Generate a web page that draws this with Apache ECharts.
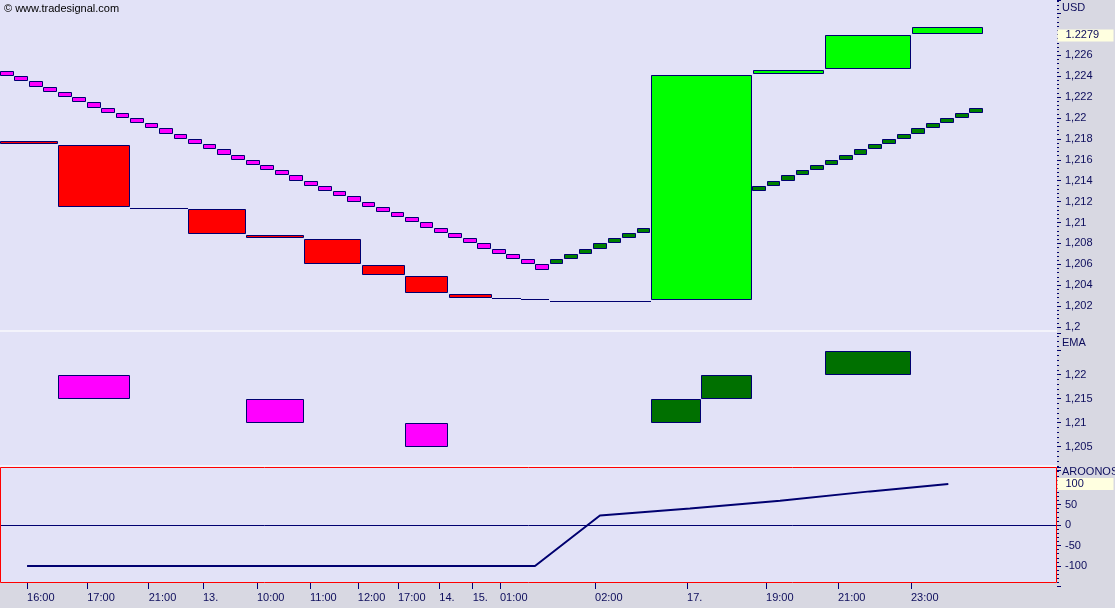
<!DOCTYPE html>
<html>
<head>
<meta charset="utf-8">
<title>Renko chart</title>
<script src="https://cdn.jsdelivr.net/npm/echarts@6.0.0/dist/echarts.min.js"></script>
<style>
html,body{margin:0;padding:0;background:#d8d8e2;overflow:hidden;}
#chart{width:1115px;height:608px;}
</style>
</head>
<body>
<div id="chart"></div>
<script>
// ---------------- data ----------------
// small renko bricks (one per column), low / high of each brick
const brickLow = [
  1.2240, 1.2235, 1.2230, 1.2225, 1.2220, 1.2215, 1.2210, 1.2205, 1.2200, 1.2195,
  1.2190, 1.2185, 1.2180, 1.2175, 1.2170, 1.2165, 1.2160, 1.2155, 1.2150, 1.2145,
  1.2140, 1.2135, 1.2130, 1.2125, 1.2120, 1.2115, 1.2110, 1.2105, 1.2100, 1.2095,
  1.2090, 1.2085, 1.2080, 1.2075, 1.2070, 1.2065, 1.2060, 1.2055,
  1.2060, 1.2065, 1.2070, 1.2075, 1.2080, 1.2085, 1.2090, 1.2095, 1.2100, 1.2105,
  1.2110, 1.2115, 1.2120, 1.2125, 1.2130, 1.2135, 1.2140, 1.2145, 1.2150, 1.2155,
  1.2160, 1.2165, 1.2170, 1.2175, 1.2180, 1.2185, 1.2190, 1.2195, 1.2200, 1.2205
];
const brickHigh = [
  1.2245, 1.2240, 1.2235, 1.2230, 1.2225, 1.2220, 1.2215, 1.2210, 1.2205, 1.2200,
  1.2195, 1.2190, 1.2185, 1.2180, 1.2175, 1.2170, 1.2165, 1.2160, 1.2155, 1.2150,
  1.2145, 1.2140, 1.2135, 1.2130, 1.2125, 1.2120, 1.2115, 1.2110, 1.2105, 1.2100,
  1.2095, 1.2090, 1.2085, 1.2080, 1.2075, 1.2070, 1.2065, 1.2060,
  1.2065, 1.2070, 1.2075, 1.2080, 1.2085, 1.2090, 1.2095, 1.2100, 1.2105, 1.2110,
  1.2115, 1.2120, 1.2125, 1.2130, 1.2135, 1.2140, 1.2145, 1.2150, 1.2155, 1.2160,
  1.2165, 1.2170, 1.2175, 1.2180, 1.2185, 1.2190, 1.2195, 1.2200, 1.2205, 1.2210
];
const brickDir = [
  -1,-1,-1,-1,-1,-1,-1,-1,-1,-1, -1,-1,-1,-1,-1,-1,-1,-1,-1,-1,
  -1,-1,-1,-1,-1,-1,-1,-1,-1,-1, -1,-1,-1,-1,-1,-1,-1,-1,
   1, 1, 1, 1, 1, 1, 1, 1, 1, 1,  1, 1, 1, 1, 1, 1, 1, 1, 1, 1,
   1, 1, 1, 1, 1, 1, 1, 1, 1, 1
];

// large price boxes (start column, end column, open, close)
const boxStart = [0, 4, 9, 13, 17, 21, 25, 28, 31, 34, 36, 38, 45, 52, 57, 63];
const boxEnd   = [4, 9, 13, 17, 21, 25, 28, 31, 34, 36, 38, 45, 52, 57, 63, 68];
const boxOpen  = [1.2178, 1.2174, 1.2114, 1.2113, 1.2088, 1.2084, 1.2059, 1.2049, 1.2032, 1.2028, 1.2027, 1.2025, 1.2026, 1.2242, 1.2247, 1.2280];
const boxClose = [1.2175, 1.2115, 1.2114, 1.2089, 1.2085, 1.2060, 1.2050, 1.2033, 1.2028, 1.2028, 1.2026, 1.2024, 1.2241, 1.2246, 1.2279, 1.2287];

// EMA panel boxes
const emaStart = [4, 17, 28, 45, 48.45, 57];
const emaEnd   = [9, 21, 31, 48.45, 52, 63];
const emaLow   = [1.215, 1.210, 1.205, 1.210, 1.215, 1.220];
const emaHigh  = [1.220, 1.215, 1.210, 1.215, 1.220, 1.225];
const emaDir   = [-1, -1, -1, 1, 1, 1];

// AROON oscillator line
const aroonX = [1.87, 36.98, 41.47, 47.69, 53.92, 60.14, 65.55];
const aroonY = [-100, -100, 23, 40, 59, 82, 100];

// time axis
const timeTickPos = [1.87, 6.03, 10.28, 14.03, 17.76, 21.43, 24.73, 27.51, 30.37, 32.67, 34.56, 41.13, 47.49, 52.95, 57.92, 62.97];
const timeTickLabels = ['16:00', '17:00', '21:00', '13.', '10:00', '11:00', '12:00', '17:00', '14.', '15.', '01:00', '02:00', '17.', '19:00', '21:00', '23:00'];

const lastPrice = 1.2279;
const lastAroon = 100;

// ---------------- styling / layout ----------------
const NAVY = '#000070';
const TXT = '#0c0c5c';
const FONT = 'Liberation Sans';
const PLOT_W = 1057;
const COL_PX = 14.467;
const X_MAX = PLOT_W / COL_PX;
const BRICK_FILL = 0.95;

function fmtPrice(v) { return String(+v.toFixed(4)).replace('.', ','); }

function pixRect(api, xa, xb, ya, yb) {
  const p0 = api.coord([xa, ya]);
  const p1 = api.coord([xb, yb]);
  return {
    L: Math.round(Math.min(p0[0], p1[0])),
    R: Math.round(Math.max(p0[0], p1[0])),
    T: Math.round(Math.min(p0[1], p1[1])),
    B: Math.round(Math.max(p0[1], p1[1]))
  };
}
function boxEl(r, fill) {
  if (!fill || r.B - r.T < 2) {
    return { type: 'rect', shape: { x: r.L, y: r.T, width: r.R - r.L, height: Math.max(r.B - r.T, 1) }, style: { fill: NAVY } };
  }
  return { type: 'rect', shape: { x: r.L + 0.5, y: r.T + 0.5, width: r.R - r.L - 1, height: r.B - r.T - 1 },
           style: { fill: fill, stroke: NAVY, lineWidth: 1 } };
}

const chart = echarts.init(document.getElementById('chart'), null, { renderer: 'canvas' });

const yTickCommon = {
  position: 'right',
  axisLine: { show: false, onZero: false },
  axisTick: { show: true, length: 4, lineStyle: { color: NAVY, width: 1 } },
  minorTick: { show: true, splitNumber: 5, length: 2, lineStyle: { color: NAVY, width: 1 } },
  splitLine: { show: false },
  minorSplitLine: { show: false }
};
const labelCommon = { color: TXT, fontSize: 11, fontFamily: FONT, margin: 8 };
function hiLabel(text) {
  return {
    show: true, position: 'right', distance: 0, formatter: text,
    backgroundColor: '#ffffe0', color: TXT, opacity: 1, textBorderWidth: 0, fontSize: 11, fontFamily: FONT,
    padding: [1, 4, 0, 8], width: 44, align: 'left', verticalAlign: 'middle'
  };
}

const option = {
  animation: false,
  backgroundColor: '#d8d8e2',
  textStyle: { fontFamily: FONT },
  grid: [
    { left: 0, top: 0, width: PLOT_W, height: 327 },
    { left: 0, top: 333, width: PLOT_W, height: 137.7 },
    { left: 0, top: 467, width: PLOT_W, height: 119.5 }
  ],
  xAxis: [
    { type: 'value', gridIndex: 0, min: 0, max: X_MAX, show: false },
    { type: 'value', gridIndex: 1, min: 0, max: X_MAX, show: false },
    { type: 'value', gridIndex: 2, min: 0, max: X_MAX, offset: -3.5, position: 'bottom',
      axisLine: { show: false, onZero: false },
      splitLine: { show: false },
      axisTick: { show: true, length: 6, customValues: timeTickPos, lineStyle: { color: NAVY } },
      axisLabel: Object.assign({}, labelCommon, {
        margin: 9, align: 'left', customValues: timeTickPos,
        formatter: function (v) {
          let best = 0, d = 1e9;
          timeTickPos.forEach(function (p, i) { if (Math.abs(p - v) < d) { d = Math.abs(p - v); best = i; } });
          return timeTickLabels[best];
        }
      })
    }
  ],
  yAxis: [
    Object.assign({ type: 'value', gridIndex: 0, min: 1.2, max: 1.2 + 327 / 10450, interval: 0.002,
      axisLabel: Object.assign({}, labelCommon, { showMaxLabel: false,
        formatter: function (v) { return v > 1.2275 ? '' : fmtPrice(v); } }) }, yTickCommon),
    Object.assign({ type: 'value', gridIndex: 1, min: 1.2, max: 1.2 + 137.7 / 4800, interval: 0.005,
      axisLabel: Object.assign({}, labelCommon, { showMaxLabel: false,
        formatter: function (v) { return (v < 1.2025 || v > 1.2225) ? '' : fmtPrice(v); } }) }, yTickCommon),
    Object.assign({ type: 'value', gridIndex: 2, min: -150, max: -150 + 119.5 / 0.41, interval: 50,
      axisLabel: Object.assign({}, labelCommon, { showMaxLabel: false,
        formatter: function (v) { return (v < -125 || v > 75) ? '' : String(Math.round(v)); } }) }, yTickCommon)
  ],
  graphic: [
    { type: 'rect', z: -10, silent: true, shape: { x: 0, y: 0, width: PLOT_W, height: 583 }, style: { fill: '#e2e2f7' } },
    { type: 'rect', z: -9, silent: true, shape: { x: 0, y: 330, width: PLOT_W, height: 2 }, style: { fill: '#f3f3fb' } },
    { type: 'rect', z: -9, silent: true, shape: { x: 0, y: 465, width: PLOT_W, height: 2 }, style: { fill: '#f3f3fb' } },
    { type: 'rect', z: 50, silent: true, shape: { x: 0.5, y: 467.5, width: PLOT_W - 1, height: 115 },
      style: { fill: null, stroke: '#ff0000', lineWidth: 1 } },
    { type: 'text', z: 50, left: 4, top: 3, style: { text: '\u00a9 www.tradesignal.com', fill: '#000000', font: '11px "Liberation Sans"' } },
    { type: 'text', z: 50, left: 1062, top: 2, style: { text: 'USD', fill: TXT, font: '11px "Liberation Sans"' } },
    { type: 'text', z: 50, left: 1062, top: 337, style: { text: 'EMA', fill: TXT, font: '11px "Liberation Sans"' } },
    { type: 'text', z: 50, left: 1062, top: 466, style: { text: 'AROONOSC', fill: TXT, font: '11px "Liberation Sans"' } }
  ],
  series: [
    {
      type: 'custom', name: 'bricks', xAxisIndex: 0, yAxisIndex: 0, silent: true, clip: true,
      data: brickLow.map(function (lo, i) { return [i, lo, brickHigh[i], brickDir[i]]; }),
      encode: { x: 0, y: [1, 2] },
      renderItem: function (params, api) {
        const i = api.value(0);
        const r = pixRect(api, i, i + BRICK_FILL, api.value(2), api.value(1));
        return boxEl(r, api.value(3) < 0 ? '#ff00ff' : '#008000');
      }
    },
    {
      type: 'custom', name: 'boxes', xAxisIndex: 0, yAxisIndex: 0, silent: true, clip: true,
      data: boxStart.map(function (s, i) { return [s, boxEnd[i], boxOpen[i], boxClose[i]]; }),
      encode: { x: [0, 1], y: [2, 3] },
      renderItem: function (params, api) {
        const o = api.value(2), c = api.value(3);
        const r = pixRect(api, api.value(0) + 0.02, api.value(1) - 0.02, Math.max(o, c), Math.min(o, c));
        const fill = c < o ? '#ff0000' : (c > o ? '#00ff00' : null);
        return boxEl(r, fill);
      }
    },
    {
      type: 'scatter', name: 'lastPrice', xAxisIndex: 0, yAxisIndex: 0, silent: true, clip: false, z: 10,
      symbolSize: 1, itemStyle: { color: '#ffffe0', opacity: 1 },
      label: hiLabel(String(lastPrice)),
      data: [[X_MAX, lastPrice]]
    },
    {
      type: 'custom', name: 'EMA', xAxisIndex: 1, yAxisIndex: 1, silent: true, clip: true,
      data: emaStart.map(function (s, i) { return [s, emaEnd[i], emaLow[i], emaHigh[i], emaDir[i]]; }),
      encode: { x: [0, 1], y: [2, 3] },
      renderItem: function (params, api) {
        const r = pixRect(api, api.value(0) + 0.02, api.value(1) - 0.02, api.value(3), api.value(2));
        return boxEl(r, api.value(4) < 0 ? '#ff00ff' : '#007000');
      }
    },
    {
      type: 'line', name: 'AROONOSC', xAxisIndex: 2, yAxisIndex: 2, silent: true,
      symbol: 'none', lineStyle: { color: NAVY, width: 2 },
      data: aroonX.map(function (x, i) { return [x, aroonY[i]]; }),
      markLine: {
        silent: true, symbol: ['none', 'none'],
        data: [
          { yAxis: 0, lineStyle: { color: NAVY, width: 1, type: 'solid' }, label: { show: false } }
        ]
      }
    },
    {
      type: 'scatter', name: 'lastAroon', xAxisIndex: 2, yAxisIndex: 2, silent: true, clip: false, z: 10,
      symbolSize: 1, itemStyle: { color: '#ffffe0', opacity: 1 },
      label: hiLabel(String(lastAroon)),
      data: [[X_MAX, lastAroon]]
    }
  ]
};
chart.setOption(option);
</script>
</body>
</html>
